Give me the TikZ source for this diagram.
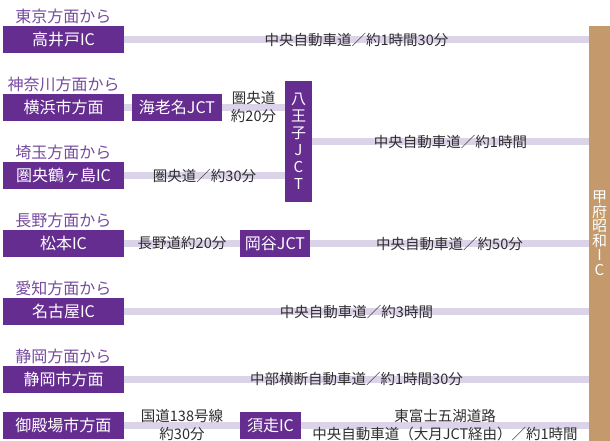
\documentclass[tikz,border=0pt]{standalone}
\usepackage{fontspec}
\setmainfont{Noto Sans CJK JP}
\definecolor{boxpurple}{RGB}{102,45,145}
\definecolor{headpurple}{RGB}{118,74,160}
\definecolor{roadlav}{RGB}{219,211,232}
\definecolor{kofutan}{RGB}{196,154,108}
\definecolor{labelgray}{RGB}{45,45,45}

\begin{document}
\begin{tikzpicture}[x=1pt,y=-1pt]

      \useasboundingbox (0,0) rectangle (610,441);

      \begin{scope}[every node/.style={text=headpurple,font=\fontsize{16}{18}\selectfont,inner sep=0}]
        \node (h1) at (63.5,16)  {東京方面から};
        \node (h2) at (63.5,84)  {神奈川方面から};
        \node (h3) at (63.5,152) {埼玉方面から};
        \node (h4) at (63.5,220) {長野方面から};
        \node (h5) at (63.5,288) {愛知方面から};
        \node (h6) at (63.5,356) {静岡方面から};
      \end{scope}

      \begin{scope}[every node/.style={fill=boxpurple,text=white,inner sep=0,
          minimum height=27pt,font=\fontsize{16}{18}\selectfont}]
        \node[minimum width=121pt] (takaido)      at (63.5,39.5)  {高井戸IC};
        \node[minimum width=121pt] (yokohama)     at (63.5,107.5) {横浜市方面};
        \node[minimum width=121pt] (tsurugashima) at (63.5,175.5) {圏央鶴ヶ島IC};
        \node[minimum width=121pt] (matsumoto)    at (63.5,243.5) {松本IC};
        \node[minimum width=121pt] (nagoya)       at (63.5,311.5) {名古屋IC};
        \node[minimum width=121pt] (shizuoka)     at (63.5,379.5) {静岡市方面};
        \node[minimum width=121pt] (gotemba)      at (63.5,425.5) {御殿場市方面};
        \node[minimum width=90pt]  (ebina)        at (177,107.5)  {海老名JCT};
        \node[minimum width=70pt]  (okaya)        at (275,243.5)  {岡谷JCT};
        \node[minimum width=61pt]  (subashiri)    at (270.5,425.5) {須走IC};
        \node[minimum width=27pt,minimum height=121pt,align=center,
          font=\fontsize{15}{17}\selectfont] (hachioji) at (298.5,141.5)
          {八\\王\\子\\J\\C\\T};
      \end{scope}

      \node[fill=kofutan,text=white,inner sep=0,minimum width=21pt,
        minimum height=415pt,align=center,font=\fontsize{15}{14.5}\selectfont]
        (kofu) at (599.5,233.5) {甲\\府\\昭\\和\\I\\C};

      \begin{scope}[every node/.style={text=labelgray,inner sep=0,align=center,
          font=\fontsize{14.5}{18}\selectfont}]

        \begin{scope}[every edge/.style={draw=roadlav,line width=7pt}]
          \path (takaido)      edge node {中央自動車道／約1時間30分} (takaido -| kofu.west);
          \path (yokohama)     edge (ebina);
          \path (ebina)        edge node {圏央道\\約20分} (ebina -| hachioji.west);
          \path (tsurugashima) edge node {圏央道／約30分} (tsurugashima -| hachioji.west);
          \path (hachioji)     edge node {中央自動車道／約1時間} (hachioji -| kofu.west);
          \path (matsumoto)    edge node {長野道約20分} (okaya);
          \path (okaya)        edge node {中央自動車道／約50分} (okaya -| kofu.west);
          \path (nagoya)       edge node {中央自動車道／約3時間} (nagoya -| kofu.west);
          \path (shizuoka)     edge node {中部横断自動車道／約1時間30分} (shizuoka -| kofu.west);
          \path (gotemba)      edge node {国道138号線\\約30分} (subashiri);
          \path (subashiri)    edge node {東富士五湖道路\\中央自動車道（大月JCT経由）／約1時間} (subashiri -| kofu.west);
        \end{scope}

      \end{scope}

    \end{tikzpicture}
\end{document}
